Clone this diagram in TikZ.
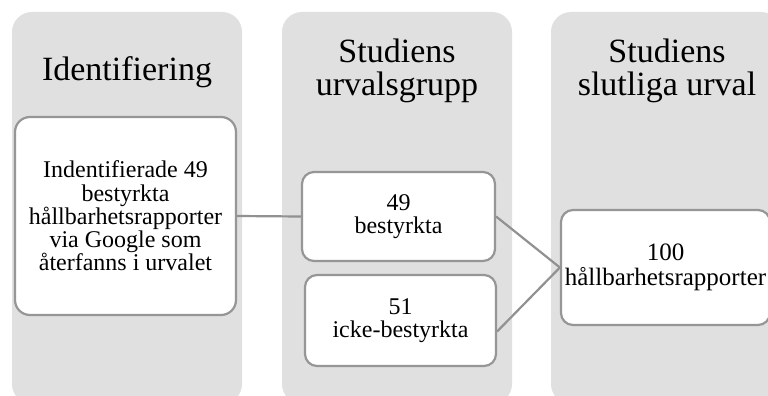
\documentclass[tikz,border=0pt]{standalone}
\usepackage{fontspec}
\setmainfont{Liberation Serif}
\definecolor{colfill}{RGB}{224,224,224}
\definecolor{edgegray}{RGB}{150,150,150}
\definecolor{linegray}{RGB}{145,145,145}
\tikzset{
  column/.style={fill=colfill, draw=none, rounded corners=20pt},
  title/.style={align=center, inner sep=0pt, font=\fontsize{34}{33}\selectfont},
  itembox/.style={draw=edgegray, fill=white, line width=2.2pt, rounded corners=12pt,
    align=center, inner sep=0pt, font=\fontsize{24}{23.3}\selectfont},
  link/.style={draw=linegray, line width=2.2pt}
}
\begin{document}
\begin{tikzpicture}[x=1pt,y=-1pt]
\useasboundingbox (0,0) rectangle (768,396);
\clip (0,0) rectangle (768,396);
\fill[white] (0,0) rectangle (768,396);
% columns
\path[column] (12,12) rectangle (242,404);
\path[column] (282,12) rectangle (512,404);
\path[column] (551,12) rectangle (781,404);
% titles
\node[title, anchor=base] (t1) at (127,81) {Identifiering};
\node[title] (t2) at (397,70.5) {Studiens\\urvalsgrupp};
\node[title] (t3) at (667,71) {Studiens\\slutliga urval};
% boxes
\node[itembox, rounded corners=15pt, minimum width=221pt, minimum height=198pt] (b1) at (125.5,216)
  {Indentifierade 49\\bestyrkta\\hållbarhetsrapporter\\via Google som\\återfanns i urvalet};
\node[itembox, minimum width=193pt, minimum height=89pt] (b2) at (398.5,216.5) {49\\bestyrkta};
\node[itembox, minimum width=191pt, minimum height=91pt] (b3) at (400.5,320.5) {51\\icke-bestyrkta};
\node[itembox, minimum width=209pt, minimum height=115pt, font=\fontsize{25}{24.5}\selectfont] (b4) at (665.5,267.5) {100\\hållbarhetsrapporter};
% connectors
\coordinate (b3out) at ([yshift=-11pt]b3.east);
\path[link] (b1.east) -- (b2.west);
\path[link] (b2.east) -- (b4.west);
\path[link] (b3out) -- (b4.west);
\end{tikzpicture}
\end{document}
